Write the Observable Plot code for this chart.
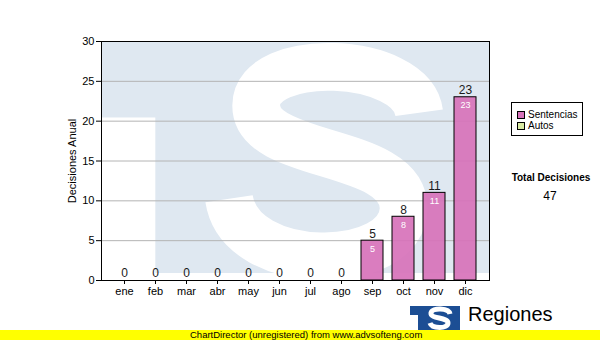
<!DOCTYPE html>
<html><head><meta charset="utf-8">
<script src="https://cdn.jsdelivr.net/npm/d3@7"></script>
<script src="https://cdn.jsdelivr.net/npm/@observablehq/plot@0.6"></script>
<style>
body{margin:0;background:#fff;font-family:"Liberation Sans",Arial,sans-serif;}
#wrap{position:relative;width:600px;height:340px;overflow:hidden;background:#fff;}
#chart{position:absolute;left:0;top:0;}
#legend{position:absolute;left:511px;top:102px;width:70px;height:32px;border:1px solid #000;background:#fff;font-size:10px;}
#legend .it{position:absolute;left:5px;height:11px;line-height:11px;white-space:nowrap;}
#legend .sw{display:inline-block;width:8px;height:8px;border:1px solid #000;box-sizing:border-box;vertical-align:-1px;margin-right:3px;}
#total{position:absolute;left:500px;top:172px;width:102px;text-align:center;font-size:10px;font-weight:bold;}
#totalv{position:absolute;left:500px;top:189px;width:100px;text-align:center;font-size:12px;}
#logo{position:absolute;left:410px;top:306px;}
#reg{position:absolute;left:468px;top:303px;font-size:20px;line-height:22px;}
#yellow{position:absolute;left:0;top:330px;width:600px;height:10px;background:#ffff00;font-size:9.5px;line-height:10px;}
#yellow span{position:absolute;left:190px;top:0;}
</style></head><body>
<div id="wrap">
<div id="chart"></div>
<div id="legend"></div>
<div id="total"></div>
<div id="totalv"></div>
<svg id="logo" width="50" height="24" viewBox="0 0 50 24">
<rect x="0" y="0" width="50" height="24" fill="#1c4e94"/>
<rect x="0" y="9" width="8" height="15" fill="#fff"/>
<path d="M40 8 C39 2, 22 1, 21 7 C20 13, 38 11, 38 17 C38 23, 22 23, 20 17" fill="none" stroke="#fff" stroke-width="5"/>
</svg>
<div id="reg">Regiones</div>
<div id="yellow"><span>ChartDirector (unregistered) from www.advsofteng.com</span></div>
</div>
<script>
const months = ["ene","feb","mar","abr","may","jun","jul","ago","sep","oct","nov","dic"];
const sentencias = [0,0,0,0,0,0,0,0,5,8,11,23];
const autos = [0,0,0,0,0,0,0,0,0,0,0,0];
const seriesNames = ["Sentencias","Autos"];
const seriesColors = ["#d772ba","#d9eaa3"];
const yTicks = [0,5,10,15,20,25,30];
const yTitle = "Decisiones Anual";
const totalTitle = "Total Decisiones";

const rows = months.flatMap((m,i)=>[
  {month:m, serie:"Sentencias", value:sentencias[i]},
  {month:m, serie:"Autos", value:autos[i]}
]);
const totals = months.map((m,i)=>({month:m, total:sentencias[i]+autos[i]}));
const grand = d3.sum(totals, d=>d.total);

function watermark(...args){
  const dims = args.find(a => a && typeof a === "object" && "marginLeft" in a && "width" in a);
  const {width, height, marginLeft:l, marginRight:r, marginTop:t, marginBottom:b} = dims;
  const x0=l, x1=width-r, y0=t, y1=height-b, w=x1-x0, h=y1-y0;
  const g = d3.create("svg:g");
  g.append("clipPath").attr("id","wmclip").append("rect").attr("x",x0).attr("y",y0).attr("width",w).attr("height",h);
  const gg = g.append("g").attr("clip-path","url(#wmclip)");
  gg.append("rect").attr("x",x0).attr("y",y0).attr("width",w).attr("height",h).attr("fill","#fff");
  gg.append("rect").attr("x",x0).attr("y",y0).attr("width",w).attr("height",h-7).attr("fill","#dfe8f1");
  gg.append("rect").attr("x",x0).attr("y",y0+h*0.32).attr("width",w*0.14).attr("height",h).attr("fill","#fff");
  // white "S" watermark as a thick stroked curve, positioned relative to the plot frame
  const X = f => x0 + f*w, Y = f => y0 + f*h;
  const p = `M${X(0.82)} ${Y(0.30)} C${X(0.80)} ${Y(0.06)}, ${X(0.40)} ${Y(0.04)}, ${X(0.40)} ${Y(0.27)} `
          + `C${X(0.40)} ${Y(0.50)}, ${X(0.78)} ${Y(0.44)}, ${X(0.78)} ${Y(0.70)} `
          + `C${X(0.78)} ${Y(0.97)}, ${X(0.36)} ${Y(0.98)}, ${X(0.33)} ${Y(0.66)}`;
  gg.append("path").attr("d", p).attr("fill","none").attr("stroke","#fff").attr("stroke-width", h*0.2);
  return g.node();
}

const chart = Plot.plot({
  width: 600, height: 300,
  marginLeft: 101, marginRight: 111, marginTop: 41, marginBottom: 20,
  style: {fontFamily: '"Liberation Sans", Arial, sans-serif', fontSize: "11px", color: "#000", background: "transparent"},
  x: {domain: months, padding: 0.29, label: null},
  y: {domain: [0,30], label: null},
  color: {domain: seriesNames, range: seriesColors},
  marks: [
    watermark,
    Plot.ruleY(yTicks.filter(v=>v>0 && v<30), {stroke:"#b4b4b4", strokeWidth:1}),
    Plot.barY(rows, Plot.stackY({x:"month", y:"value", fill:"serie", order: seriesNames, filter: d=>d.value>0, stroke:"#000", strokeWidth:1, fillOpacity:0.92})),
    Plot.text(totals, {x:"month", y:"total", text: d=>String(d.total), dy:-7, fontSize:12, fill:"#1a1a1a"}),
    Plot.text(totals, {filter: d=>d.total>0, x:"month", y:"total", text: d=>String(d.total), dy:8, fontSize:9, fill:"#fff"}),
    Plot.axisY({ticks: yTicks, tickSize: 5, tickPadding: 2, fontSize: 11, label: yTitle, labelAnchor: "center", labelArrow: "none", labelOffset: 33}),
    Plot.axisX({tickSize: 4, tickPadding: 3, fontSize: 11, label: null}),
    Plot.frame({stroke:"#000", strokeWidth:1})
  ]
});
document.getElementById("chart").appendChild(chart);

const leg = document.getElementById("legend");
seriesNames.forEach((n,i)=>{
  const d = document.createElement("div");
  d.className = "it"; d.style.top = (6 + i*11) + "px";
  d.innerHTML = `<span class="sw" style="background:${seriesColors[i]}"></span>${n}`;
  leg.appendChild(d);
});
document.getElementById("total").textContent = totalTitle;
document.getElementById("totalv").textContent = String(grand);
</script>
</body></html>
